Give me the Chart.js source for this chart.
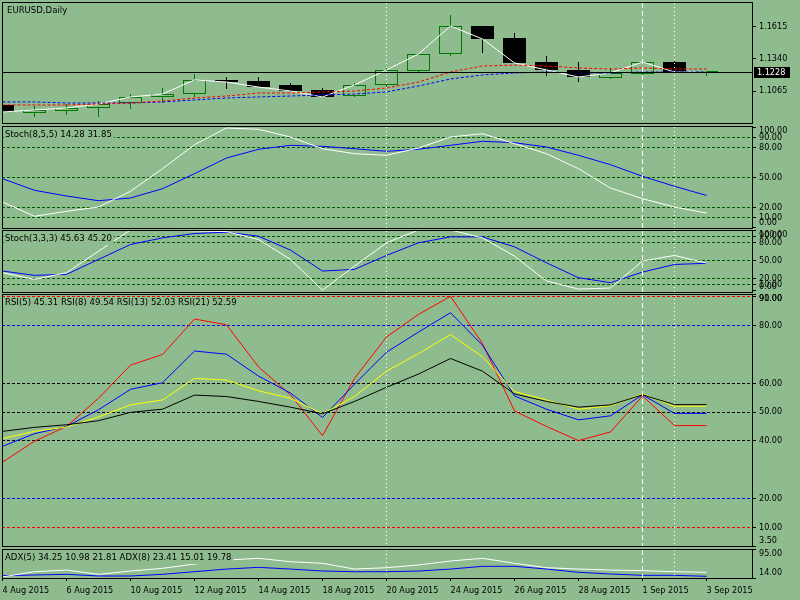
<!DOCTYPE html>
<html>
<head>
<meta charset="utf-8">
<title>EURUSD,Daily</title>
<script src="https://cdn.jsdelivr.net/npm/chart.js@4.4.1/dist/chart.umd.min.js"></script>
<style>
body { margin: 0; background: #8fbc8f; }
#wrap { position: relative; width: 800px; height: 600px; overflow: hidden; background: #8fbc8f; }
#wrap canvas { position: absolute; left: 0; top: 0; }
</style>
</head>
<body>
<div id="wrap">
  <canvas id="pricePane" width="800" height="600"></canvas>
  <canvas id="stochSlowPane" width="800" height="600"></canvas>
  <canvas id="stochFastPane" width="800" height="600"></canvas>
  <canvas id="rsiPane" width="800" height="600"></canvas>
  <canvas id="adxPane" width="800" height="600"></canvas>
</div>
<script>
'use strict';

// ---- data ----
var dates = ['4 Aug 2015', '5 Aug 2015', '6 Aug 2015', '7 Aug 2015', '10 Aug 2015', '11 Aug 2015',
    '12 Aug 2015', '13 Aug 2015', '14 Aug 2015', '17 Aug 2015', '18 Aug 2015', '19 Aug 2015',
    '20 Aug 2015', '21 Aug 2015', '24 Aug 2015', '25 Aug 2015', '26 Aug 2015', '27 Aug 2015',
    '28 Aug 2015', '31 Aug 2015', '1 Sep 2015', '2 Sep 2015', '3 Sep 2015'];
var dateTicks = [0, 2, 4, 6, 8, 10, 12, 14, 16, 18, 20, 22];

var opens  = [1.0945, 1.0876, 1.0893, 1.0919, 1.0962, 1.1014, 1.1039, 1.1160, 1.1151, 1.1117, 1.1074, 1.1022,
              1.1117, 1.1237, 1.1383, 1.1623, 1.1520, 1.1314, 1.1246, 1.1177, 1.1211, 1.1314, 1.1228];
var highs  = [1.0945, 1.0936, 1.0953, 1.0979, 1.1039, 1.1091, 1.1211, 1.1185, 1.1185, 1.1134, 1.1091, 1.1134,
              1.1271, 1.1383, 1.1718, 1.1623, 1.1563, 1.1366, 1.1314, 1.1263, 1.1323, 1.1323, 1.1228];
var lows   = [1.0880, 1.0842, 1.0859, 1.0842, 1.0910, 1.0962, 1.1014, 1.1082, 1.1099, 1.1057, 1.1014, 1.1014,
              1.1099, 1.1220, 1.1366, 1.1392, 1.1306, 1.1194, 1.1142, 1.1168, 1.1203, 1.1228, 1.1194];
var closes = [1.0885, 1.0902, 1.0919, 1.0953, 1.1014, 1.1039, 1.1160, 1.1142, 1.1099, 1.1065, 1.1014, 1.1117,
              1.1246, 1.1383, 1.1623, 1.1512, 1.1306, 1.1246, 1.1185, 1.1220, 1.1314, 1.1228, 1.1228];
var maRed  = [1.0945, 1.0945, 1.0945, 1.0953, 1.0962, 1.0979, 1.1005, 1.1022, 1.1048, 1.1048, 1.1057, 1.1065,
              1.1091, 1.1142, 1.1228, 1.1280, 1.1288, 1.1280, 1.1263, 1.1254, 1.1263, 1.1254, 1.1254];
var maBlue = [1.0971, 1.0971, 1.0962, 1.0962, 1.0962, 1.0971, 1.0988, 1.1005, 1.1014, 1.1022, 1.1031, 1.1039,
              1.1057, 1.1108, 1.1168, 1.1203, 1.1220, 1.1228, 1.1220, 1.1220, 1.1228, 1.1228, 1.1228];
var lastPrice = 1.1228;
var priceTicks = [1.1615, 1.1340, 1.1065];

var stochSlowMain   = [25.3, 11, 16, 20.3, 36, 58.6, 82.6, 99.3, 98, 90.3, 78.6, 73.6,
                       72, 79.3, 90.3, 93.6, 83.6, 73.6, 58.6, 39.3, 28.6, 20.3, 14.28];
var stochSlowSignal = [48.6, 37, 31.3, 26.6, 29.3, 38.6, 53.6, 69.3, 78, 82, 81, 78.6,
                       76, 78, 82, 86, 84.6, 80.3, 72, 62.6, 51, 41, 31.85];
var stochFastMain   = [29.7, 18.8, 29.7, 65.2, 100, 100, 98.5, 97.4, 84.4, 51.6, 1, 40.6,
                       78.9, 100, 100, 87, 57, 16, 2.8, 4.6, 48.9, 58.2, 45.63];
var stochFastSignal = [32.5, 25.4, 27, 51.6, 76.1, 87, 94.2, 96.4, 89.8, 66.9, 32.5, 35.2,
                       58.2, 78.9, 88.7, 88.7, 72.3, 46, 21.5, 13.3, 30.8, 43.3, 45.2];
var stochTicks  = [100, 90, 80, 50, 20, 10, 0];
var stochLevels = [90, 80, 50, 20, 10];

var rsi5  = [32.6, 39.9, 45, 54.8, 66.3, 70, 82.3, 80.3, 65.7, 56, 41.8, 61.7,
             76.1, 83.9, 90.2, 73.8, 50.4, 45, 40.1, 43.1, 55.6, 45.31, 45.31];
var rsi8  = [38.1, 42.5, 45, 50.8, 57.9, 60.2, 71.2, 70.1, 62.5, 56.6, 48.1, 59.7,
             70.8, 77.8, 84.5, 73.2, 55.6, 51, 47.3, 48.7, 56, 49.54, 49.54];
var rsi13 = [40.8, 43.3, 44.8, 48.3, 52.5, 54.2, 61.7, 61.1, 57.4, 54.8, 49.4, 55.4,
             64.2, 70.3, 76.9, 69.2, 57.1, 54.2, 51, 52.2, 56.3, 52.03, 52.03];
var rsi21 = [43.3, 44.7, 45.6, 47, 49.9, 51, 55.9, 55.4, 53.7, 51.7, 49.4, 53.7,
             58.6, 63.2, 68.6, 64.2, 56.3, 53.7, 51.7, 52.5, 56, 52.59, 52.59];
var rsiTicks = [91, 90, 80, 60, 50, 40, 20, 10, 3.5];

var adxMain = [17, 31.6, 36.3, 24.2, 33.5, 41, 53, 64.2, 69, 59.5, 55, 39,
               42.8, 50.3, 61.4, 69, 55, 42.8, 39, 36.3, 34.5, 31.6, 29.9];
var adxPlus = [20.4, 22.4, 24.2, 19.6, 19.6, 24.2, 31.6, 39, 43.7, 39, 33.5, 31.6,
               31.6, 33.5, 39, 46.6, 46.6, 39, 29.9, 25.2, 21.5, 21.5, 18.7];
var adxTicks = [95, 14];

var separatorBars = [12, 20, 21];

// ---- look ----
var BG = '#8fbc8f';
var BULL = '#007800';
var FONT = '"DejaVu Sans Condensed", "Liberation Sans", sans-serif';
var separatorDash = [[1, 3], [5, 3], [1, 3]];
var xMin = -1 / 64;
var xMax = xMin + 750 / 32;

Chart.defaults.font.family = FONT;
Chart.defaults.font.size = 9;
Chart.defaults.color = '#000000';

// MT4 keeps the end labels inside the pane
function labelY(scale, v) {
    var p = scale.getPixelForValue(v);
    return Math.max(scale.top + 4.5, Math.min(scale.bottom - 5.5, p));
}
function isClamped(scale, v) {
    return Math.abs(labelY(scale, v) - scale.getPixelForValue(v)) > 0.01;
}

var paneDecor = {
    id: 'paneDecor',
    afterDatasetsDraw: function(chart, args, opts) {
        var ctx = chart.ctx;
        var a = chart.chartArea;
        var xs = chart.scales.x;
        var ys = chart.scales.y;
        ctx.save();

        if (opts.lastPrice) {
            var py = Math.round(ys.getPixelForValue(opts.lastPrice)) + 0.5;
            ctx.strokeStyle = '#000000';
            ctx.lineWidth = 1;
            ctx.beginPath();
            ctx.moveTo(a.left, py);
            ctx.lineTo(a.right, py);
            ctx.stroke();
        }

        //separators over every pane
        ctx.strokeStyle = '#ffffff';
        ctx.lineWidth = 1;
        separatorBars.forEach(function(bar, i) {
            var px = xs.getPixelForValue(bar);
            ctx.setLineDash(separatorDash[i]);
            ctx.beginPath();
            ctx.moveTo(px, a.top + 1);
            ctx.lineTo(px, a.bottom);
            ctx.stroke();
        });
        ctx.setLineDash([]);

        ctx.strokeStyle = '#000000';
        ctx.strokeRect(a.left + 0.5, a.top + 0.5, a.right - a.left, a.bottom - a.top);

        ctx.textBaseline = 'middle';
        ctx.textAlign = 'left';
        ctx.font = '9px ' + FONT;
        ys.ticks.forEach(function(t) {
            if (isClamped(ys, t.value)) {
                ctx.fillStyle = '#000000';
                ctx.fillText(t.label, a.right + 7, labelY(ys, t.value));
            }
        });

        if (opts.lastPrice) {
            var y0 = Math.round(ys.getPixelForValue(opts.lastPrice));
            ctx.fillStyle = '#000000';
            ctx.fillRect(a.right + 2, y0 - 5, 36, 11);
            ctx.fillStyle = '#ffffff';
            ctx.fillText(opts.lastPrice.toFixed(4), a.right + 5, y0 + 1);
        }

        ctx.font = '9.5px ' + FONT;
        var tx = a.left + opts.titleX;
        var tw = ctx.measureText(opts.title).width;
        ctx.fillStyle = BG;
        ctx.fillRect(tx - 1, a.top + 3, tw + 3, 12);
        ctx.fillStyle = '#000000';
        ctx.fillText(opts.title, tx, a.top + 9);
        ctx.restore();
    }
};
Chart.register(paneDecor);

function points(arr) {
    return arr.map(function(v, i) { return {x: i, y: v}; });
}

function line(arr, color, dash) {
    return {
        type: 'line',
        data: points(arr),
        borderColor: color,
        borderWidth: 1,
        borderDash: dash || [],
        pointRadius: 0,
        tension: 0,
        order: 1
    };
}

function makePane(id, pane) {
    var showDates = !!pane.showDates;
    var xAxisHeight = 21;
    var xScale = {
        type: 'linear',
        min: xMin,
        max: xMax,
        offset: false,
        display: showDates,
        grid: {drawOnChartArea: false, drawTicks: true, tickLength: 3, tickColor: '#000000'},
        border: {display: false},
        ticks: {
            align: 'start', padding: 4, maxRotation: 0, autoSkip: false,
            callback: function(v) { return dates[v]; }
        },
        afterBuildTicks: function(s) { s.ticks = dateTicks.map(function(v) { return {value: v}; }); }
    };
    if (showDates) {
        xScale.afterFit = function(s) { s.height = xAxisHeight; s.paddingLeft = 0; s.paddingRight = 0; };
    }

    return new Chart(document.getElementById(id), {
        type: pane.type || 'line',
        data: {datasets: pane.datasets},
        options: {
            responsive: false,
            animation: false,
            events: [],
            layout: {padding: {left: 2, right: 0, top: pane.top,
                               bottom: 600 - pane.bottom - (showDates ? xAxisHeight : 0)}},
            plugins: {
                legend: {display: false},
                tooltip: {enabled: false},
                paneDecor: {title: pane.title, titleX: pane.titleX || 3, lastPrice: pane.lastPrice}
            },
            scales: {
                x: xScale,
                y: {
                    type: 'linear',
                    position: 'right',
                    bounds: 'data',
                    min: pane.min,
                    max: pane.max,
                    grid: {
                        drawOnChartArea: !!pane.levelColor,
                        drawTicks: true,
                        tickLength: 4,
                        tickColor: '#000000',
                        color: function(c) {
                            return pane.levelColor ? pane.levelColor(c.tick.value) : 'rgba(0,0,0,0)';
                        }
                    },
                    border: {display: false, dash: [3, 2]},
                    ticks: {
                        padding: 3, autoSkip: false,
                        color: function(c) {
                            return isClamped(c.scale, c.tick.value) ? 'rgba(0,0,0,0)' : '#000000';
                        },
                        callback: function(v) { return v.toFixed(pane.decimals); }
                    },
                    afterBuildTicks: function(s) { s.ticks = pane.ticks.map(function(v) { return {value: v}; }); },
                    afterFit: function(s) { s.width = 48; s.paddingTop = 0; s.paddingBottom = 0; }
                }
            }
        }
    });
}

// ---- candles ----
var bodyEdge = closes.map(function(c, i) { return c < opens[i] ? '#000000' : BULL; });
var bodyFill = closes.map(function(c, i) {
    if (c < opens[i]) return '#000000';
    return c === opens[i] ? BULL : 'rgba(0,0,0,0)';
});
var candleBase = {type: 'bar', grouped: false, inflateAmount: 0, borderSkipped: false, order: 2};

var candleBodies = Object.assign({}, candleBase, {
    data: opens.map(function(o, i) { return {x: i, y: [o, closes[i]]}; }),
    backgroundColor: bodyFill, borderColor: bodyEdge, borderWidth: 1, barThickness: 23, minBarLength: 1
});
var upperWicks = Object.assign({}, candleBase, {
    data: highs.map(function(h, i) { return {x: i, y: [Math.max(opens[i], closes[i]), h]}; }),
    backgroundColor: bodyEdge, borderWidth: 0, barThickness: 1
});
var lowerWicks = Object.assign({}, candleBase, {
    data: lows.map(function(l, i) { return {x: i, y: [l, Math.min(opens[i], closes[i])]}; }),
    backgroundColor: bodyEdge, borderWidth: 0, barThickness: 1
});

makePane('pricePane', {
    type: 'bar', top: 2, bottom: 123, min: 1.07902, max: 1.18296,
    ticks: priceTicks, decimals: 4, title: 'EURUSD,Daily', titleX: 5, lastPrice: lastPrice,
    datasets: [upperWicks, lowerWicks, candleBodies,
               line(maRed, '#ff0000', [3, 2]), line(maBlue, '#0000ff', [3, 2]), line(closes, '#ffffff')]
});

function stochLevelColor(v) {
    return stochLevels.indexOf(v) >= 0 ? '#005a00' : 'rgba(0,0,0,0)';
}

makePane('stochSlowPane', {
    top: 126, bottom: 228, min: -0.7, max: 101.3, ticks: stochTicks, decimals: 2,
    title: 'Stoch(8,5,5) 14.28 31.85', levelColor: stochLevelColor,
    datasets: [line(stochSlowMain, '#ffffff'), line(stochSlowSignal, '#0000ff')]
});

makePane('stochFastPane', {
    top: 230, bottom: 292, min: -2, max: 100, ticks: stochTicks, decimals: 2,
    title: 'Stoch(3,3,3) 45.63 45.20', levelColor: stochLevelColor,
    datasets: [line(stochFastMain, '#ffffff'), line(stochFastSignal, '#0000ff')]
});

makePane('rsiPane', {
    top: 294, bottom: 546, min: 3.5, max: 91, ticks: rsiTicks, decimals: 2,
    title: 'RSI(5) 45.31 RSI(8) 49.54 RSI(13) 52.03 RSI(21) 52.59',
    levelColor: function(v) {
        if (v === 90 || v === 10) return '#ff0000';
        if (v === 80 || v === 20) return '#0000ff';
        if (v === 60 || v === 50 || v === 40) return '#000000';
        return 'rgba(0,0,0,0)';
    },
    datasets: [line(rsi21, '#000000'), line(rsi13, '#ffff00'), line(rsi8, '#0000ff'), line(rsi5, '#ff0000')]
});

makePane('adxPane', {
    top: 549, bottom: 578, min: 14, max: 95, ticks: adxTicks, decimals: 2, showDates: true,
    title: 'ADX(5) 34.25 10.98 21.81 ADX(8) 23.41 15.01 19.78',
    datasets: [line(adxMain, '#ffffff'), line(adxPlus, '#0000ff')]
});
</script>
</body>
</html>
